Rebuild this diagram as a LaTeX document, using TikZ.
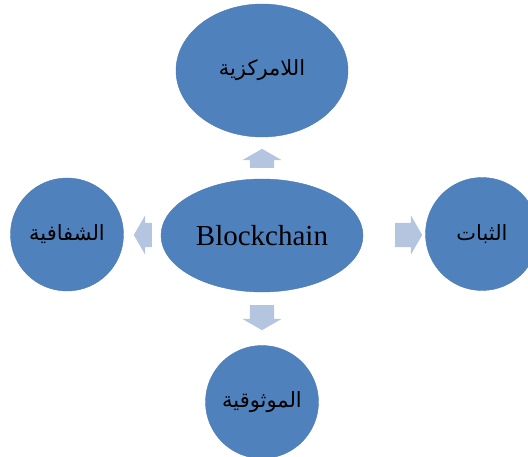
\documentclass[tikz,border=0pt]{standalone}
\usepackage{fontspec}
\setmainfont{Liberation Serif}
\newfontfamily\arabicfont[Script=Arabic]{DejaVu Sans}
\TeXXeTstate=1
\usetikzlibrary{shapes.geometric, shapes.arrows, positioning}

\definecolor{bubbleblue}{HTML}{4F81BD}
\definecolor{bubbleedge}{HTML}{4A7AB3}
\definecolor{arrowblue}{HTML}{B4C5DF}

\tikzset{
  bubble/.style={ellipse, fill=bubbleblue, draw=bubbleedge, inner sep=0pt},
  arlabel/.style={font=\arabicfont\fontsize{21}{24}\selectfont},
  blockarrow/.style={single arrow, fill=arrowblue, draw=none, inner xsep=0pt, inner ysep=12pt,
                     single arrow head extend=7.5pt, single arrow tip angle=120},
}

\begin{document}
\begin{tikzpicture}[x=1pt, y=-1pt] % 像素坐标, y 轴向下
\clip (0,0) rectangle (528,457); % 固定画布大小

% 中心椭圆
\node[bubble, minimum width=202pt, minimum height=113pt, font=\fontsize{29}{32}\selectfont] (core) at (262,235.5) {Blockchain};

% 四周的圆
\node[bubble, minimum width=172pt, minimum height=133pt, arlabel] (decentral) at (262,70.5) {\beginR اللامركزية\endR};
\node[bubble, minimum size=113pt, arlabel] (transparency) at (67,234.5) {\beginR الشفافية\endR};
\node[bubble, minimum size=113pt, arlabel] (immutable) at (482,234) {\beginR الثبات\endR};
\node[bubble, minimum size=113pt, arlabel] (trust) at (262,402) {\beginR الموثوقية\endR};

% 块状箭头
\node[blockarrow, minimum height=19pt, rotate=90, anchor=tail] (upArrow) at (262,168) {};
\node[blockarrow, minimum height=18pt, rotate=180, anchor=tail] (leftArrow) at (152,235) {};
\node[blockarrow, minimum height=27pt, anchor=tail] (rightArrow) at (395,235) {};
\node[blockarrow, minimum height=25pt, rotate=-90, anchor=tail] (downArrow) at (262,305) {};
\end{tikzpicture}
\end{document}
